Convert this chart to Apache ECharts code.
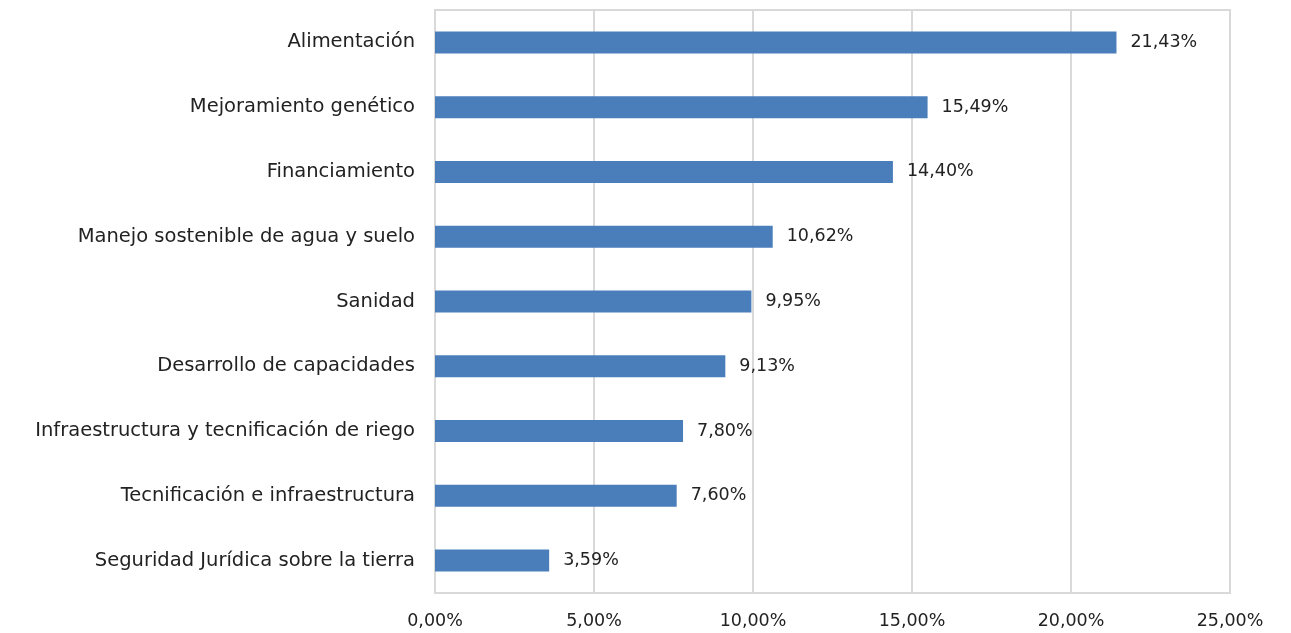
<!DOCTYPE html>
<html>
<head>
<meta charset="utf-8">
<script src="https://cdn.jsdelivr.net/npm/echarts@6/dist/echarts.min.js"></script>
<style>
  html, body { margin: 0; padding: 0; background: #fff; }
  #main { width: 1291px; height: 633px; }
</style>
</head>
<body>
<div id="main"></div>
<script>
// categorias de arriba hacia abajo
var categorias = [
  "Alimentación",
  "Mejoramiento genético",
  "Financiamiento",
  "Manejo sostenible de agua y suelo",
  "Sanidad",
  "Desarrollo de capacidades",
  "Infraestructura y tecnificación de riego",
  "Tecnificación e infraestructura",
  "Seguridad Jurídica sobre la tierra"
];
var porcentajes = [21.43, 15.49, 14.40, 10.62, 9.95, 9.13, 7.80, 7.60, 3.59];

function fmt(v) {
  return v.toFixed(2).replace(".", ",") + "%";
}

var myChart = echarts.init(document.getElementById("main"));
myChart.setOption({
  animation: false,
  textStyle: { fontFamily: "'DejaVu Sans', sans-serif" },
  grid: {
    left: 435,
    right: 61,
    top: 10,
    bottom: 40,
    show: true,
    borderColor: "#d9d9d9",
    borderWidth: 2
  },
  xAxis: {
    type: "value",
    min: 0,
    max: 25,
    interval: 5,
    axisLine: { show: false },
    axisTick: { show: false },
    splitLine: { lineStyle: { color: "#d9d9d9", width: 2 } },
    axisLabel: {
      formatter: fmt,
      color: "#222",
      fontSize: 17.5,
      margin: 19
    }
  },
  yAxis: {
    type: "category",
    inverse: true,
    data: categorias,
    axisLine: { show: true, lineStyle: { color: "#d9d9d9", width: 2 } },
    axisTick: { show: false },
    axisLabel: {
      color: "#222",
      fontSize: 19.5,
      margin: 20
    }
  },
  series: [
    {
      type: "bar",
      data: porcentajes,
      barWidth: 22,
      itemStyle: { color: "#4a7ebb" },
      label: {
        show: true,
        position: "right",
        distance: 14,
        color: "#222",
        fontSize: 17.5,
        formatter: function (p) { return fmt(p.value); }
      }
    }
  ]
});
</script>
</body>
</html>
